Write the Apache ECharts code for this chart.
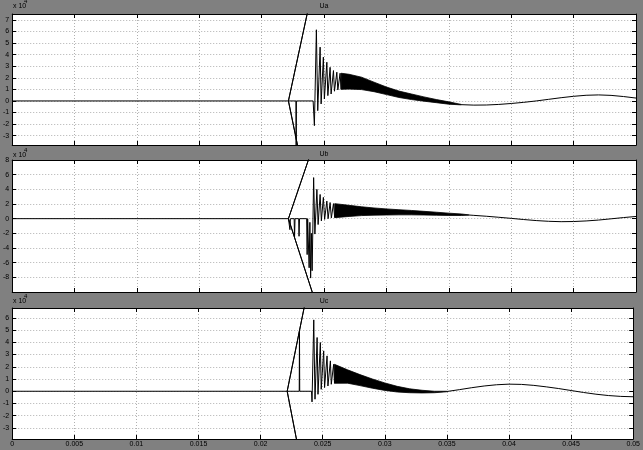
<!DOCTYPE html>
<html>
<head>
<meta charset="utf-8">
<script src="https://cdn.jsdelivr.net/npm/echarts@6/dist/echarts.min.js"></script>
<style>
html,body{margin:0;padding:0;background:#808080;}
#chart{width:643px;height:450px;}
</style>
</head>
<body>
<div id="chart"></div>
<script>
// ---------- DATA (values in units of 1e4) ----------
const titles = ['Ua', 'Ub', 'Uc'];
const timeTicks = [0, 0.005, 0.01, 0.015, 0.02, 0.025, 0.03, 0.035, 0.04, 0.045, 0.05];
const yTicksA = [-3, -2, -1, 0, 1, 2, 3, 4, 5, 6, 7];
const yTicksB = [-8, -6, -4, -2, 0, 2, 4, 6, 8];
const yTicksC = [-3, -2, -1, 0, 1, 2, 3, 4, 5, 6];
const yRangeA = [-3.8, 7.5];
const yRangeB = [-10, 8];
const yRangeC = [-3.9, 6.8];

// Ua: transient polyline
const uaT = [0, 0.02214, 0.02614, 0.02214, 0.02595, 0.02214, 0.02274, 0.02276, 0.02278, 0.02412, 0.02422, 0.02438, 0.02449, 0.02468, 0.02476, 0.02494, 0.02502, 0.02522, 0.02530, 0.02548, 0.02556, 0.02575, 0.02583, 0.02602, 0.02610, 0.02628, 0.02636];
const uaV = [0, 0, 20, 0, -20, 0, 0, -6, 0, 0, -2.13, 6.14, -0.84, 4.64, -0.26, 3.78, 0.17, 3.34, 0.46, 2.9, 0.6, 2.62, 0.84, 2.48, 0.95, 2.39, 1.0];
// Ua: dense oscillation band
const uaBandT = [0.02636, 0.0270, 0.0280, 0.0290, 0.0300, 0.0310, 0.0320, 0.0330, 0.0340, 0.0350, 0.0360];
const uaBandLo = [1.0, 1.02, 0.98, 0.8, 0.55, 0.3, 0.12, -0.02, -0.15, -0.28, -0.34];
const uaBandHi = [2.39, 2.3, 2.05, 1.62, 1.2, 0.85, 0.6, 0.35, 0.12, -0.08, -0.3];
// Ua: tail
const uaTailT = [0.0360, 0.0370, 0.0380, 0.0390, 0.0400, 0.0410, 0.0420, 0.0430, 0.0440, 0.0450, 0.0460, 0.0470, 0.0480, 0.0490, 0.0500];
const uaTailV = [-0.32, -0.36, -0.35, -0.3, -0.22, -0.12, 0.0, 0.14, 0.28, 0.4, 0.49, 0.52, 0.48, 0.38, 0.25];

// Ub
const ubT = [0, 0.02214, 0.02614, 0.02214, 0.02595, 0.02214, 0.02226, 0.02230, 0.02260, 0.02263, 0.02267, 0.02296, 0.02299, 0.02303, 0.02360, 0.02364, 0.02368, 0.02380, 0.02386, 0.02392, 0.02398, 0.02404, 0.02410, 0.02416, 0.02426, 0.02442, 0.02452, 0.02468, 0.02478, 0.02494, 0.02504, 0.02522, 0.02532, 0.02548, 0.02558, 0.02575, 0.02585];
const ubV = [0, 0, 20, 0, -20, 0, -1.5, 0, 0, -2.6, 0, 0, -2.4, 0, 0, -4.9, 0, -6.7, -0.5, -8.1, -2, -7.1, -1, 5.6, -2.1, 4.0, -0.8, 3.3, -0.3, 2.9, -0.1, 2.4, 0.0, 2.2, 0.1, 2.05, 0.14];
const ubBandT = [0.02585, 0.0270, 0.0280, 0.0290, 0.0300, 0.0310, 0.0320, 0.0330, 0.0340, 0.0350, 0.0360, 0.0366];
const ubBandLo = [0.14, 0.3, 0.42, 0.48, 0.5, 0.52, 0.52, 0.5, 0.47, 0.44, 0.43, 0.48];
const ubBandHi = [2.05, 1.82, 1.62, 1.46, 1.33, 1.22, 1.12, 1.0, 0.88, 0.75, 0.64, 0.52];
const ubTailT = [0.0366, 0.0370, 0.0380, 0.0390, 0.0400, 0.0410, 0.0420, 0.0430, 0.0440, 0.0450, 0.0460, 0.0470, 0.0480, 0.0490, 0.0500];
const ubTailV = [0.5, 0.45, 0.33, 0.19, 0.04, -0.12, -0.26, -0.36, -0.41, -0.39, -0.31, -0.19, -0.02, 0.15, 0.3];

// Uc
const ucT = [0, 0.02214, 0.02614, 0.02214, 0.02595, 0.02214, 0.02311, 0.02313, 0.02315, 0.02410, 0.02414, 0.02428, 0.02438, 0.02455, 0.02462, 0.02481, 0.02488, 0.02508, 0.02515, 0.02535, 0.02542, 0.02562, 0.02569, 0.02588, 0.02595];
const ucV = [0, 0, 20, 0, -20, 0, 0, 4.9, 0, 0, -0.87, 5.83, -0.65, 4.39, -0.25, 3.98, 0.16, 3.3, 0.3, 2.89, 0.43, 2.48, 0.57, 2.2, 0.65];
const ucBandT = [0.02595, 0.0270, 0.0280, 0.0290, 0.0300, 0.0310, 0.0320, 0.0330, 0.0340, 0.0350];
const ucBandLo = [0.65, 0.66, 0.46, 0.25, 0.07, -0.06, -0.12, -0.14, -0.12, -0.04];
const ucBandHi = [2.2, 1.75, 1.36, 1.0, 0.68, 0.4, 0.2, 0.08, 0.0, -0.0];
const ucTailT = [0.0350, 0.0360, 0.0370, 0.0380, 0.0390, 0.0400, 0.0410, 0.0420, 0.0430, 0.0440, 0.0450, 0.0460, 0.0470, 0.0480, 0.0490, 0.0500];
const ucTailV = [-0.02, 0.13, 0.29, 0.43, 0.53, 0.58, 0.56, 0.48, 0.36, 0.22, 0.06, -0.1, -0.24, -0.35, -0.42, -0.45];

// ---------- CHART ----------
const FONT = 'Liberation Sans, Arial, sans-serif';
const FS = 7;
const panels = [
  {title: titles[0], ticks: yTicksA, range: yRangeA, T: uaT, V: uaV, bT: uaBandT, bLo: uaBandLo, bHi: uaBandHi, tT: uaTailT, tV: uaTailV},
  {title: titles[1], ticks: yTicksB, range: yRangeB, T: ubT, V: ubV, bT: ubBandT, bLo: ubBandLo, bHi: ubBandHi, tT: ubTailT, tV: ubTailV},
  {title: titles[2], ticks: yTicksC, range: yRangeC, T: ucT, V: ucV, bT: ucBandT, bLo: ucBandLo, bHi: ucBandHi, tT: ucTailT, tV: ucTailV}
];
const layout = [
  {top: 14, height: 131, titleTop: 3, expTop: 3},
  {top: 160, height: 132, titleTop: 151, expTop: 152},
  {top: 308, height: 131, titleTop: 298, expTop: 298}
];
const GRID_COLOR = '#b0b0b0';
const pair = (T, V) => T.map((t, i) => [t, V[i]]);

const grid = [], xAxis = [], yAxis = [], series = [], title = [], graphic = [];
panels.forEach((p, gi) => {
  const L = layout[gi];
  grid.push({left: 12, width: 624, top: L.top, height: L.height, backgroundColor: '#fff', show: true, borderWidth: 0});
  const isBottom = gi === 2;
  xAxis.push({
    gridIndex: gi, type: 'value', position: 'bottom', min: 0, max: 0.05, interval: 0.005,
    axisLine: {show: true, onZero: false, lineStyle: {color: '#000', width: 1}},
    axisTick: {show: true, inside: true, length: 4, lineStyle: {color: '#000'}},
    axisLabel: {show: isBottom, color: '#000', fontSize: FS, fontFamily: FONT, margin: 2,
      formatter: v => String(+v.toFixed(3))},
    splitLine: {show: true, lineStyle: {color: GRID_COLOR, type: [1, 2], width: 1}}
  });
  xAxis.push({
    gridIndex: gi, type: 'value', position: 'top', min: 0, max: 0.05, interval: 0.005,
    axisLine: {show: true, onZero: false, lineStyle: {color: '#000', width: 1}},
    axisTick: {show: true, inside: true, length: 4, lineStyle: {color: '#000'}},
    axisLabel: {show: false}, splitLine: {show: false}
  });
  yAxis.push({
    gridIndex: gi, type: 'value', position: 'left', min: p.range[0], max: p.range[1],
    axisLine: {show: true, onZero: false, lineStyle: {color: '#000', width: 1}},
    axisTick: {show: true, inside: true, length: 4, customValues: p.ticks, lineStyle: {color: '#000'}},
    axisLabel: {show: true, customValues: p.ticks, color: '#000', fontSize: FS, fontFamily: FONT, margin: 3},
    splitLine: {show: true, lineStyle: {color: GRID_COLOR, type: [1, 2], width: 1}}
  });
  yAxis.push({
    gridIndex: gi, type: 'value', position: 'right', min: p.range[0], max: p.range[1],
    axisLine: {show: true, onZero: false, lineStyle: {color: '#000', width: 1}},
    axisTick: {show: true, inside: true, length: 4, customValues: p.ticks, lineStyle: {color: '#000'}},
    axisLabel: {show: false}, splitLine: {show: false}
  });
  const xi = gi * 2, yi = gi * 2;
  series.push({
    type: 'line', xAxisIndex: xi, yAxisIndex: yi, data: pair(p.T, p.V),
    symbol: 'none', showSymbol: false, clip: true, animation: false, silent: true,
    lineStyle: {color: '#000', width: 1}, z: 5
  });
  const bT = p.bT, bLo = p.bLo, bHi = p.bHi;
  series.push({
    type: 'custom', xAxisIndex: xi, yAxisIndex: yi, clip: true, animation: false, silent: true,
    data: bT.map((t, i) => [t, bLo[i], bHi[i]]),
    encode: {x: 0, y: [1, 2]},
    renderItem: (params, api) => {
      if (params.dataIndex !== 0) return null;
      const pts = [];
      for (let i = 0; i < bT.length; i++) pts.push(api.coord([bT[i], bHi[i]]));
      for (let i = bT.length - 1; i >= 0; i--) pts.push(api.coord([bT[i], bLo[i]]));
      return {type: 'polygon', shape: {points: pts}, style: {fill: '#000', stroke: '#000', lineWidth: 0.8}};
    },
    z: 5
  });
  series.push({
    type: 'line', xAxisIndex: xi, yAxisIndex: yi, data: pair(p.tT, p.tV),
    symbol: 'none', showSymbol: false, clip: true, animation: false, silent: true,
    lineStyle: {color: '#000', width: 1}, z: 5
  });
  title.push({
    text: p.title, left: 324, top: L.titleTop, textAlign: 'center', padding: 0,
    textStyle: {color: '#000', fontSize: FS, fontWeight: 'normal', fontFamily: FONT}
  });
  graphic.push({type: 'text', left: 13, top: L.expTop, style: {text: 'x 10', fill: '#000', fontSize: FS, fontFamily: FONT}, silent: true});
  graphic.push({type: 'text', left: 24, top: L.expTop - 5, style: {text: '4', fill: '#000', fontSize: 6, fontFamily: FONT}, silent: true});
});

const chart = echarts.init(document.getElementById('chart'), null, {renderer: 'canvas'});
chart.setOption({
  backgroundColor: '#808080',
  animation: false,
  title, grid, xAxis, yAxis, series, graphic
});
</script>
</body>
</html>
